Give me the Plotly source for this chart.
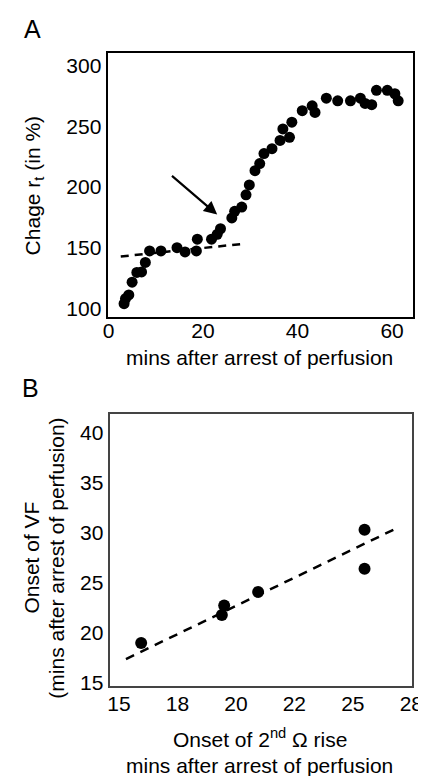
import plotly.graph_objects as go

# Panel A data
a_x = [3.3, 3.6, 4.3, 5.0, 6.0, 7.0, 7.8, 8.7, 11.1, 14.5, 16.2, 18.6, 18.8, 21.8, 23.0, 23.7,
       26.1, 26.7, 28.2, 29.1, 29.8, 31.0, 32.0, 32.9, 34.6, 36.3, 36.9, 38.3, 38.8, 41.0,
       43.1, 43.7, 46.1, 48.5, 51.2, 53.3, 54.3, 55.7, 56.7, 59.0, 60.6, 61.3]
a_y = [103.8, 108, 111, 121.5, 129.6, 130, 137.8, 147.3, 147.3, 150, 146.5, 147.3, 157, 157, 161, 165.6,
       174.5, 180, 183.5, 193.6, 201.8, 213.5, 219.4, 227.6, 231.7, 238.5, 248, 241, 253.5, 263,
       267, 261.6, 273.3, 271.2, 271.2, 273.3, 269, 268, 279.8, 279.8, 277, 271.2]
a_fit_x = [2.6, 28.9]
a_fit_y = [142.7, 153.3]
a_xticks = [0, 20, 40, 60]
a_yticks = [100, 150, 200, 250, 300]

# Panel B data
b_x = [15.95, 19.4, 19.5, 20.95, 25.5, 25.5]
b_y = [19.0, 21.8, 22.75, 24.1, 30.3, 26.4]
b_fit_x = [15.3, 27.0]
b_fit_y = [17.4, 30.6]
b_xtickvals = [15, 17.5, 20, 22.5, 25, 27.5]
b_xticktext = ["15", "18", "20", "22", "25", "28"]
b_yticks = [15, 20, 25, 30, 35, 40]

FONT = "Liberation Sans, Arial, sans-serif"
TICK = 21
TITLE = 21

fig = go.Figure()
fig.add_trace(go.Scatter(x=a_fit_x, y=a_fit_y, mode="lines", xaxis="x", yaxis="y",
                         line=dict(color="black", width=2.5, dash="8px,6px"), showlegend=False))
fig.add_trace(go.Scatter(x=a_x, y=a_y, mode="markers", xaxis="x", yaxis="y",
                         marker=dict(color="black", size=11), showlegend=False))
fig.add_trace(go.Scatter(x=b_fit_x, y=b_fit_y, mode="lines", xaxis="x2", yaxis="y2",
                         line=dict(color="black", width=2.5, dash="9px,7px"), showlegend=False))
fig.add_trace(go.Scatter(x=b_x, y=b_y, mode="markers", xaxis="x2", yaxis="y2",
                         marker=dict(color="black", size=12), showlegend=False))

axis_common = dict(showgrid=False, zeroline=False, showline=True, mirror=True, ticks="",
                   tickfont=dict(family=FONT, size=TICK, color="black"))

fig.update_layout(
    width=426, height=776,
    margin=dict(l=0, r=0, t=0, b=0),
    paper_bgcolor="white", plot_bgcolor="white",
    font=dict(family=FONT, color="black"),
    xaxis=dict(domain=[0.230, 0.974], range=[-0.2, 64.5], tickvals=a_xticks, anchor="y",
               linecolor="black", linewidth=2, ticklabelstandoff=-6, **axis_common),
    yaxis=dict(domain=[0.598, 0.942], range=[93, 311], tickvals=a_yticks, anchor="x",
               linecolor="black", linewidth=2, **axis_common),
    xaxis2=dict(domain=[0.235, 0.972], range=[14.6, 27.55], tickvals=b_xtickvals,
                ticktext=b_xticktext, anchor="y2", linecolor="#444", linewidth=2,
                ticklabelstandoff=-2, **axis_common),
    yaxis2=dict(domain=[0.117, 0.472], range=[14.7, 41.9], tickvals=b_yticks, anchor="x2",
                linecolor="#444", linewidth=2, **axis_common),
)


def add_text(text, px, py, size, angle=0):
    fig.add_annotation(text=text, x=px / 426, y=1 - py / 776, xref="paper", yref="paper",
                       showarrow=False, textangle=angle, xanchor="center", yanchor="middle",
                       font=dict(family=FONT, size=size, color="black"))


add_text("A", 20, 21, 25)
add_text("B", 18, 384, 25)
add_text("Chage r<sub>t</sub> (in %)", 22, 179, TITLE, -90)
add_text("mins after arrest of perfusion", 256, 353, TITLE)
add_text("Onset of VF", 19, 555, TITLE, -90)
add_text("(mins after arrest of perfusion)", 45, 556, TITLE, -90)
add_text("Onset of 2<sup>nd</sup> Ω rise", 256, 738, TITLE)
add_text("mins after arrest of perfusion", 256, 765, TITLE)

# arrow in panel A
fig.add_annotation(x=23.0, y=177.3, ax=12.8, ay=211.3, xref="x", yref="y", axref="x", ayref="y",
                   showarrow=True, arrowhead=2, arrowsize=1.2, arrowwidth=2.2, arrowcolor="black",
                   text=" ")

fig.write_html("out.html")
